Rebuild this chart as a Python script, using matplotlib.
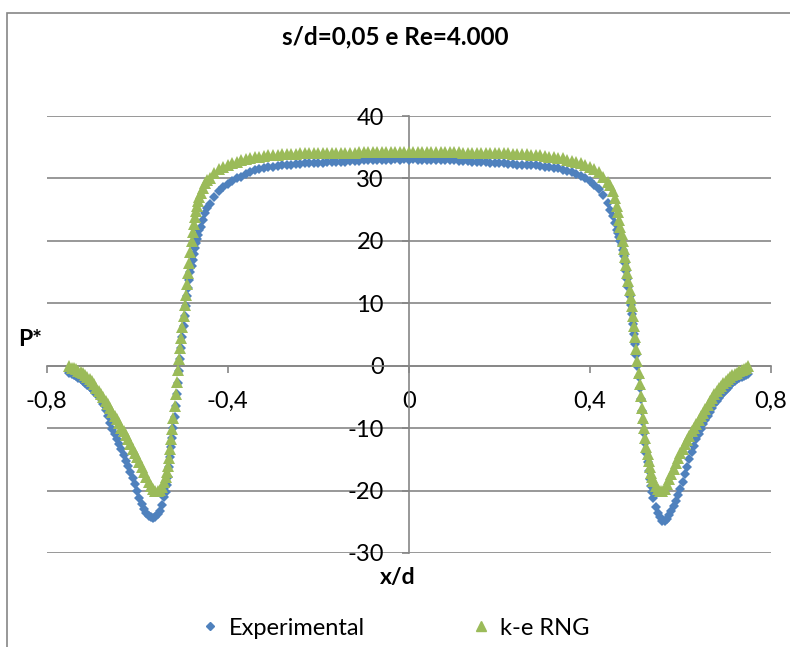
import matplotlib.pyplot as plt
from matplotlib.lines import Line2D
from matplotlib.patches import Rectangle

# x/d positions (shared by both series)
x_d = [
    -0.750, -0.745, -0.740, -0.735, -0.730, -0.725, -0.720, -0.715, -0.710, -0.705,
    -0.700, -0.695, -0.690, -0.685, -0.680, -0.675, -0.670, -0.665, -0.660, -0.655,
    -0.650, -0.645, -0.640, -0.635, -0.630, -0.625, -0.620, -0.615, -0.610, -0.605,
    -0.600, -0.595, -0.590, -0.585, -0.580, -0.575, -0.570, -0.565, -0.560, -0.555,
    -0.550, -0.545, -0.540,
    -0.5375, -0.5350, -0.5325, -0.5300, -0.5275, -0.5250, -0.5225, -0.5200, -0.5175, -0.5150,
    -0.5125, -0.5100, -0.5075, -0.5050, -0.5025, -0.5000, -0.4975, -0.4950, -0.4925, -0.4900,
    -0.4875, -0.4850, -0.4825, -0.4800, -0.4775, -0.4750, -0.4725, -0.4700, -0.4675, -0.4650,
    -0.4625,
    -0.460, -0.455, -0.450, -0.445,
    -0.44, -0.43, -0.42, -0.41, -0.40, -0.39, -0.38, -0.37, -0.36, -0.35,
    -0.34, -0.33, -0.32, -0.31, -0.30, -0.29, -0.28, -0.27, -0.26, -0.25,
    -0.24, -0.23, -0.22, -0.21, -0.20, -0.19, -0.18, -0.17, -0.16, -0.15,
    -0.14, -0.13, -0.12, -0.11, -0.10, -0.09, -0.08, -0.07, -0.06, -0.05,
    -0.04, -0.03, -0.02, -0.01, 0.00, 0.01, 0.02, 0.03, 0.04, 0.05,
    0.06, 0.07, 0.08, 0.09, 0.10, 0.11, 0.12, 0.13, 0.14, 0.15,
    0.16, 0.17, 0.18, 0.19, 0.20, 0.21, 0.22, 0.23, 0.24, 0.25,
    0.26, 0.27, 0.28, 0.29, 0.30, 0.31, 0.32, 0.33, 0.34, 0.35,
    0.36, 0.37, 0.38, 0.39, 0.40, 0.41, 0.42, 0.43, 0.44,
    0.445, 0.450, 0.455, 0.460,
    0.4625, 0.4650, 0.4675, 0.4700, 0.4725, 0.4750, 0.4775, 0.4800, 0.4825, 0.4850,
    0.4875, 0.4900, 0.4925, 0.4950, 0.4975, 0.5000, 0.5025, 0.5050, 0.5075, 0.5100,
    0.5125, 0.5150, 0.5175, 0.5200, 0.5225, 0.5250, 0.5275, 0.5300, 0.5325, 0.5350,
    0.5375,
    0.540, 0.545, 0.550, 0.555, 0.560, 0.565, 0.570, 0.575, 0.580, 0.585,
    0.590, 0.595, 0.600, 0.605, 0.610, 0.615, 0.620, 0.625, 0.630, 0.635,
    0.640, 0.645, 0.650, 0.655, 0.660, 0.665, 0.670, 0.675, 0.680, 0.685,
    0.690, 0.695, 0.700, 0.705, 0.710, 0.715, 0.720, 0.725, 0.730, 0.735,
    0.740, 0.745, 0.750,
]

# P* experimental
p_exp = [
    -1.1, -1.3, -1.5, -1.7, -2.0, -2.2, -2.5, -2.8, -3.1, -3.4,
    -3.7, -4.1, -4.5, -4.9, -5.4, -6.2, -7.1, -8.1, -9.1, -10.1,
    -11.0, -11.8, -12.6, -13.4, -14.3, -15.2, -16.1, -17.0, -18.0, -19.0,
    -20.1, -21.2, -22.2, -23.0, -23.6, -24.0, -24.3, -24.4, -24.2, -23.8,
    -23.2, -22.3, -21.1,
    -20.2, -19.1, -17.8, -16.3, -14.7, -13.1, -11.5, -9.9, -8.2, -6.4,
    -4.6, -2.8, -0.9, 1.0, 2.8, 4.6, 6.3, 8.0, 9.6, 11.1,
    12.5, 13.8, 15.0, 16.0, 17.0, 17.9, 18.8, 19.6, 20.3, 21.0,
    21.7,
    22.3, 23.4, 24.4, 25.2,
    25.9, 27.1, 28.0, 28.6, 29.1, 29.6, 30.0, 30.3, 30.7, 31.0,
    31.3, 31.5, 31.6, 31.8, 31.9, 32.0, 32.1, 32.1, 32.2, 32.3,
    32.3, 32.4, 32.4, 32.5, 32.5, 32.5, 32.6, 32.6, 32.7, 32.7,
    32.7, 32.8, 32.8, 32.8, 32.9, 32.9, 32.9, 33.0, 32.9, 33.0,
    33.0, 33.1, 33.0, 33.1, 33.0, 33.1, 33.0, 33.0, 33.0, 33.0,
    32.9, 33.0, 32.9, 32.9, 32.9, 32.8, 32.8, 32.8, 32.7, 32.7,
    32.6, 32.6, 32.5, 32.5, 32.4, 32.4, 32.3, 32.3, 32.2, 32.2,
    32.2, 32.1, 32.1, 32.0, 31.9, 31.8, 31.7, 31.6, 31.4, 31.2,
    31.0, 30.7, 30.4, 30.0, 29.6, 29.0, 28.3, 27.4, 26.0,
    25.0, 24.0, 22.9, 21.8,
    21.2, 20.6, 20.0, 19.3, 18.5, 17.5, 16.4, 15.2, 13.9, 12.6,
    11.2, 9.8, 8.3, 6.7, 5.1, 3.4, 1.7, 0.0, -1.8, -3.6,
    -5.4, -7.2, -9.0, -10.7, -12.4, -14.0, -15.5, -16.9, -18.1, -19.3,
    -20.3,
    -21.2, -22.6, -23.6, -24.3, -24.8, -24.8, -24.5, -23.9, -23.2, -22.4,
    -21.6, -20.7, -19.7, -18.6, -17.4, -16.2, -15.0, -13.9, -12.8, -11.8,
    -10.9, -10.1, -9.4, -8.7, -8.0, -7.4, -6.8, -6.2, -5.7, -5.2,
    -4.7, -4.3, -3.9, -3.5, -3.1, -2.8, -2.5, -2.2, -2.0, -1.8,
    -1.6, -1.5, -1.4,
]

# P* k-e RNG
p_rng = [
    -0.1, -0.3, -0.4, -0.6, -0.8, -1.0, -1.2, -1.5, -1.8, -2.1,
    -2.5, -3.0, -3.5, -4.0, -4.5, -5.0, -5.6, -6.2, -6.8, -7.4,
    -8.0, -8.6, -9.2, -9.9, -10.5, -11.1, -11.8, -12.5, -13.3, -14.0,
    -14.7, -15.5, -16.3, -17.1, -17.9, -18.6, -19.2, -19.8, -20.1, -20.1,
    -19.9, -19.5, -18.6,
    -17.9, -17.0, -16.0, -14.8, -13.4, -11.8, -10.1, -8.3, -6.4, -4.5,
    -2.6, -0.7, 1.0, 2.8, 4.5, 6.2, 7.9, 9.7, 11.4, 13.1,
    14.8, 16.5, 18.2, 19.9, 21.4, 22.7, 23.8, 24.8, 25.6, 26.4,
    27.0,
    27.6, 28.5, 29.2, 29.7,
    30.1, 30.9, 31.5, 31.9, 32.2, 32.5, 32.7, 32.9, 33.1, 33.3,
    33.4, 33.5, 33.6, 33.7, 33.75, 33.8, 33.85, 33.9, 33.9, 33.95,
    34.0, 34.0, 34.0, 34.05, 34.05, 34.1, 34.1, 34.1, 34.1, 34.15,
    34.15, 34.15, 34.15, 34.2, 34.2, 34.2, 34.2, 34.2, 34.2, 34.2,
    34.2, 34.2, 34.2, 34.2, 34.2, 34.2, 34.2, 34.2, 34.2, 34.2,
    34.2, 34.2, 34.2, 34.2, 34.2, 34.2, 34.15, 34.15, 34.15, 34.1,
    34.1, 34.1, 34.05, 34.05, 34.0, 34.0, 34.0, 33.95, 33.9, 33.9,
    33.85, 33.8, 33.75, 33.7, 33.6, 33.5, 33.4, 33.3, 33.2, 33.0,
    32.85, 32.7, 32.5, 32.2, 31.9, 31.5, 31.0, 30.3, 29.4,
    28.9, 28.0, 26.9, 25.6,
    24.6, 23.4, 22.2, 21.1, 20.0, 18.7, 17.4, 16.1, 14.8, 13.5,
    12.1, 10.8, 9.5, 8.0, 6.4, 4.6, 2.7, 0.8, -1.1, -3.0,
    -4.9, -6.7, -8.4, -10.0, -11.6, -13.0, -14.2, -15.3, -16.3, -17.2,
    -17.9,
    -18.5, -19.3, -19.8, -20.1, -20.1, -19.7, -19.0, -18.2, -17.4, -16.5,
    -15.6, -14.8, -14.0, -13.3, -12.6, -11.9, -11.2, -10.5, -9.9, -9.3,
    -8.7, -8.1, -7.5, -6.9, -6.3, -5.7, -5.2, -4.6, -4.1, -3.6,
    -3.2, -2.8, -2.4, -2.1, -1.8, -1.5, -1.3, -1.1, -0.9, -0.7,
    -0.5, -0.3, -0.1,
]

x_ticks = [-0.8, -0.4, 0, 0.4, 0.8]
x_tick_labels = ['-0,8', '-0,4', '0', '0,4', '0,8']
y_ticks = [-30, -20, -10, 0, 10, 20, 30, 40]

blue = '#4F81BD'
green = '#9BBB59'
gray = '#868686'

plt.rcParams['font.family'] = ['Lato', 'DejaVu Sans']
plt.rcParams['axes.unicode_minus'] = False

fig = plt.figure(figsize=(7.9, 6.47), dpi=100)

# chart area border
fig.add_artist(Rectangle((7 / 790, -0.1), 1.1, 1 - 13 / 647 + 0.1, transform=fig.transFigure,
                         fill=False, edgecolor=gray, lw=1.2))

ax = fig.add_axes([0.0591, 0.1453, 0.9168, 0.6754])
ax.set_xlim(-0.8, 0.8)
ax.set_ylim(-30, 40)

ax.plot(x_d, p_exp, linestyle='none', marker='D', markersize=5.2, color=blue,
        markeredgewidth=0, label='Experimental', zorder=3)
ax.plot(x_d, p_rng, linestyle='none', marker='^', markersize=8.4, color=green,
        markeredgewidth=0, label='k-e RNG', zorder=4)

for s in ['top', 'right']:
    ax.spines[s].set_visible(False)
ax.spines['left'].set_position(('data', 0))
ax.spines['bottom'].set_position(('data', 0))
for s in ['left', 'bottom']:
    ax.spines[s].set_color(gray)
    ax.spines[s].set_linewidth(1.2)

ax.set_xticks(x_ticks)
ax.set_xticklabels(x_tick_labels)
ax.set_yticks(y_ticks)
ax.yaxis.grid(True, color=gray, lw=1.2)
ax.set_axisbelow(True)
ax.tick_params(axis='x', direction='out', length=5, color=gray, width=1.2,
               labelsize=17, pad=13)
ax.tick_params(axis='y', direction='out', length=5, color=gray, width=1.2,
               labelsize=17, pad=13)

fig.text(0.5, 0.943, 's/d=0,05 e Re=4.000', ha='center', va='center',
         fontsize=17.5, fontweight='bold')
fig.text(0.038, 0.4745, 'P*', ha='center', va='center', fontsize=16.5, fontweight='bold')
fig.text(0.503, 0.108, 'x/d', ha='center', va='center', fontsize=16.5, fontweight='bold')

handles = [Line2D([], [], linestyle='none', marker='D', markersize=4.5, color=blue),
           Line2D([], [], linestyle='none', marker='^', markersize=6.5, color=green)]
fig.legend(handles, ['Experimental', 'k-e RNG'], loc='center', ncol=2,
           bbox_to_anchor=(0.5, 0.029), frameon=False, fontsize=17,
           handlelength=0.8, handletextpad=0.4, columnspacing=4.5)

fig.savefig('out.png', dpi=100)
